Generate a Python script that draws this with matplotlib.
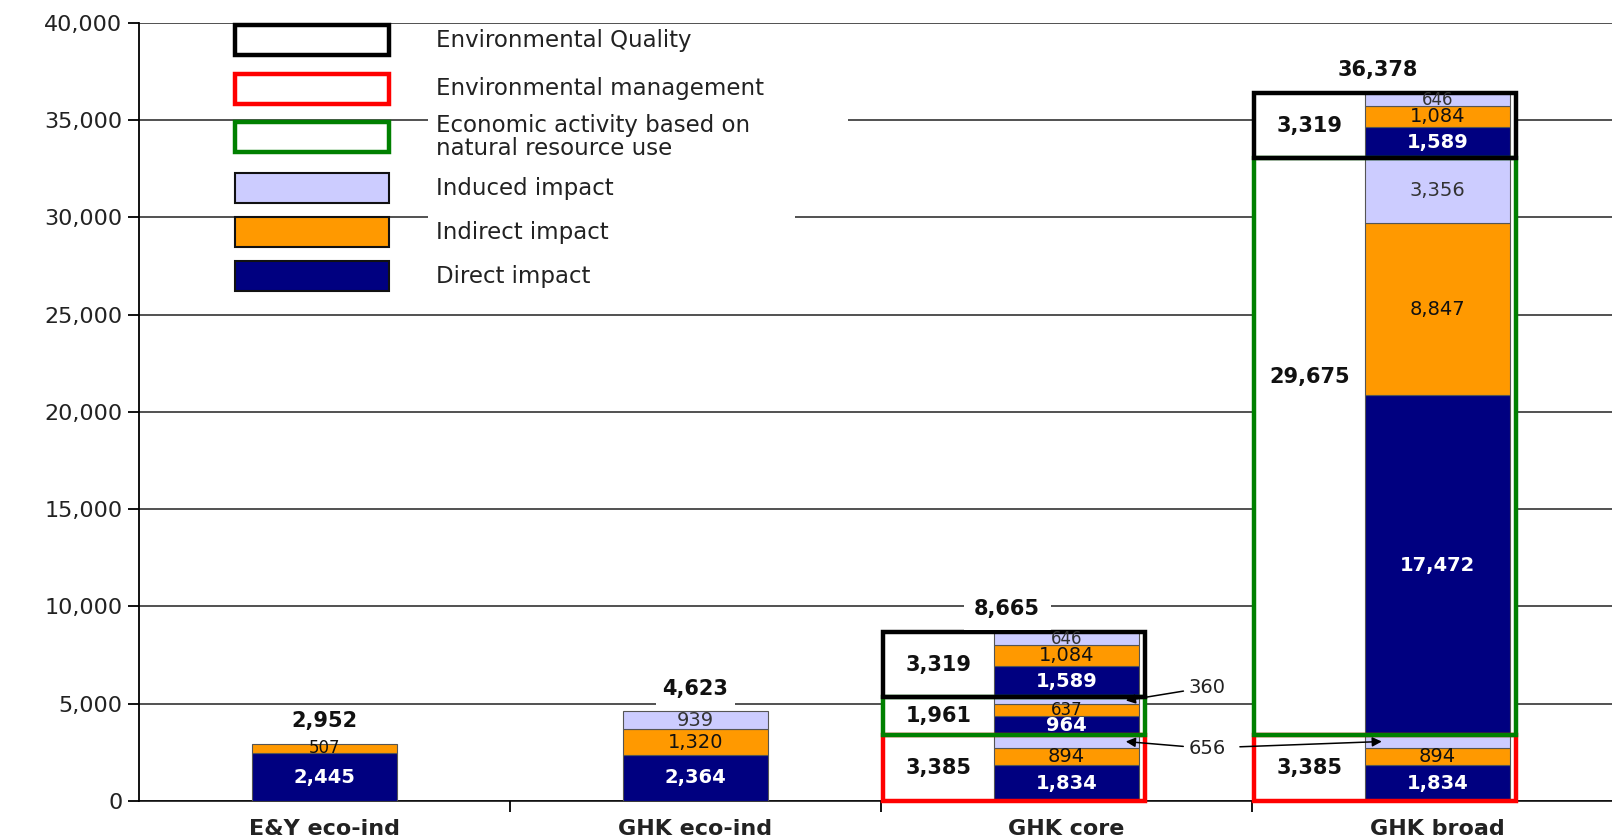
import matplotlib
matplotlib.use("Agg")
import matplotlib.pyplot as plt
from matplotlib.patches import Rectangle
from matplotlib.ticker import FuncFormatter, MultipleLocator, FixedLocator

plt.rcParams['font.family'] = ['DejaVu Sans']

## data

categories = ['E&Y eco-ind', 'GHK eco-ind', 'GHK core', 'GHK broad']

# the two plain stacked bars
simple_direct = [2445, 2364]
simple_indirect = [507, 1320]
simple_induced = [0, 939]
simple_totals = [2952, 4623]

# the two bars split by activity group (bottom to top)
group_names = ['Environmental management', 'Economic activity based on\nnatural resource use',
               'Environmental Quality']
group_colors = ['#ff0000', '#008000', '#000000']

core_direct = [1834, 964, 1589]
core_indirect = [894, 637, 1084]
core_induced = [656, 360, 646]
core_group_totals = [3385, 1961, 3319]
core_total = 8665

broad_direct = [1834, 17472, 1589]
broad_indirect = [894, 8847, 1084]
broad_induced = [656, 3356, 646]
broad_group_totals = [3385, 29675, 3319]
broad_total = 36378

c_direct = '#000080'
c_indirect = '#ff9900'
c_induced = '#ccccff'
bar_w = 0.39

fig = plt.figure(figsize=(16.12, 8.38), dpi=100)
ax = fig.add_axes([0.0862, 0.0442, 0.9206, 0.9284])
ax.set_xlim(-0.5, 3.5)
ax.set_ylim(0, 40000)

# gridlines
ax.yaxis.set_major_locator(MultipleLocator(5000))
ax.yaxis.set_major_formatter(FuncFormatter(lambda v, p: '{:,.0f}'.format(v)))
ax.grid(axis='y', color='#222222', lw=1.1, zorder=0)
ax.set_axisbelow(True)
for s in ['top', 'right']:
    ax.spines[s].set_visible(False)
ax.spines['left'].set_linewidth(1.3)
ax.spines['bottom'].set_linewidth(1.1)
ax.tick_params(axis='y', length=8, width=1.3, pad=4, labelsize=16, labelcolor='#222222')

ax.set_xticks(range(len(categories)))
ax.set_xticklabels(categories, fontsize=16, fontweight='bold', color='#222222')
ax.tick_params(axis='x', which='major', length=0, pad=13)
ax.xaxis.set_minor_locator(FixedLocator([0.5, 1.5, 2.5]))
ax.tick_params(axis='x', which='minor', length=8, width=1.3)


def seg_label(x, bottom, h, value, color):
    # small segments get a slightly smaller font
    fs = 14 if h >= 700 else 12
    if color == c_direct:
        ax.text(x, bottom + h / 2, '{:,}'.format(value), ha='center', va='center',
                fontsize=fs, fontweight='bold', color='white', zorder=7)
    elif color == c_indirect:
        ax.text(x, bottom + h / 2, '{:,}'.format(value), ha='center', va='center',
                fontsize=fs, color='#111111', zorder=7)
    else:
        ax.text(x, bottom + h / 2, '{:,}'.format(value), ha='center', va='center',
                fontsize=fs, color='#333333', zorder=7)


# plain bars
for i in range(2):
    bottom = 0
    for vals, col in [(simple_direct, c_direct), (simple_indirect, c_indirect), (simple_induced, c_induced)]:
        v = vals[i]
        if v == 0:
            continue
        ax.bar(i, v, bar_w, bottom=bottom, color=col, edgecolor='#555555', lw=0.8, zorder=3)
        seg_label(i, bottom, v, v, col)
        bottom += v
    ax.text(i, simple_totals[i] + 1150, '{:,}'.format(simple_totals[i]), ha='center', va='center',
            fontsize=15, fontweight='bold', color='#111111', zorder=6,
            bbox=dict(boxstyle='square,pad=0.3', fc='white', ec='none'))


# grouped bars with outline boxes
def grouped_bar(i, direct, indirect, induced, group_totals, total, skip_induced):
    bottom = 0
    for g in range(3):
        g_start = bottom
        g_h = direct[g] + indirect[g] + induced[g]
        # white fill first, outline later so it sits over the bar
        ax.add_patch(Rectangle((i - 0.495, g_start), 0.708, g_h, fc='white', ec='none',
                               zorder=4, clip_on=False))
        for v, col in [(direct[g], c_direct), (indirect[g], c_indirect), (induced[g], c_induced)]:
            ax.bar(i, v, bar_w, bottom=bottom, color=col, edgecolor='#555555', lw=0.8, zorder=5)
            if not (col == c_induced and g in skip_induced):
                seg_label(i, bottom, v, v, col)
            bottom += v
        # the tall green box has its label above the middle in the reference
        ly = g_start + g_h * (0.62 if g_h > 10000 else 0.5)
        ax.text(i - 0.345, ly, '{:,}'.format(group_totals[g]), ha='center', va='center',
                fontsize=15, fontweight='bold', color='#111111', zorder=7)
    bottom = 0
    for g in range(3):
        g_h = direct[g] + indirect[g] + induced[g]
        ax.add_patch(Rectangle((i - 0.495, bottom), 0.708, g_h, fill=False,
                               ec=group_colors[g], lw=3.2, zorder=6, clip_on=False))
        bottom += g_h
    ax.text(i - 0.16, total + 1200, '{:,}'.format(total), ha='center', va='center',
            fontsize=15, fontweight='bold', color='#111111', zorder=6,
            bbox=dict(boxstyle='square,pad=0.5', fc='white', ec='none'))


grouped_bar(2, core_direct, core_indirect, core_induced, core_group_totals, core_total, [0, 1])
grouped_bar(3, broad_direct, broad_indirect, broad_induced, broad_group_totals, broad_total, [0])

# small induced values pointed at with arrows
arrow = dict(arrowstyle='-|>', color='black', lw=1.1, mutation_scale=14, shrinkA=2, shrinkB=0)
y360 = core_group_totals[0] + core_direct[1] + core_indirect[1] + core_induced[1] / 2
ax.annotate('{:,}'.format(core_induced[1]), xy=(2.16, y360), xytext=(2.38, 5850),
            ha='center', va='center', fontsize=14, color='#222222', arrowprops=arrow, zorder=8)
y656 = core_direct[0] + core_indirect[0] + core_induced[0] / 2
ax.annotate('{:,}'.format(core_induced[0]), xy=(2.16, y656), xytext=(2.38, 2700),
            ha='center', va='center', fontsize=14, color='#222222', arrowprops=arrow, zorder=8)
ax.annotate('', xy=(2.85, y656), xytext=(2.46, 2780), arrowprops=arrow, zorder=8)

# legend drawn by hand (pixel positions of the reference)
W, H = 1612.0, 838.0


def fig_rect(x0, y0, x1, y1, **kw):
    fig.patches.append(Rectangle((x0 / W, 1 - y1 / H), (x1 - x0) / W, (y1 - y0) / H,
                                 transform=fig.transFigure, **kw))


fig_rect(428, 28, 848, 162, fc='white', ec='none', zorder=2)
fig_rect(428, 162, 795, 300, fc='white', ec='none', zorder=2)

legend_items = [
    ('Environmental Quality', 'white', '#000000', 3.2, 40),
    ('Environmental management', 'white', '#ff0000', 3.2, 89),
    ('Economic activity based on\nnatural resource use', 'white', '#008000', 3.2, 137),
    ('Induced impact', c_induced, '#111111', 1.5, 188),
    ('Indirect impact', c_indirect, '#111111', 1.5, 232),
    ('Direct impact', c_direct, '#111111', 1.5, 276),
]
for label, fc, ec, lw, yc in legend_items:
    fig_rect(235, yc - 15, 389, yc + 15, fc=fc, ec=ec, lw=lw, zorder=3)
    fig.text(436 / W, 1 - yc / H, label, ha='left', va='center', fontsize=16.5,
             color='#222222', linespacing=1.0, zorder=4)

plt.savefig('out.png', dpi=100)
